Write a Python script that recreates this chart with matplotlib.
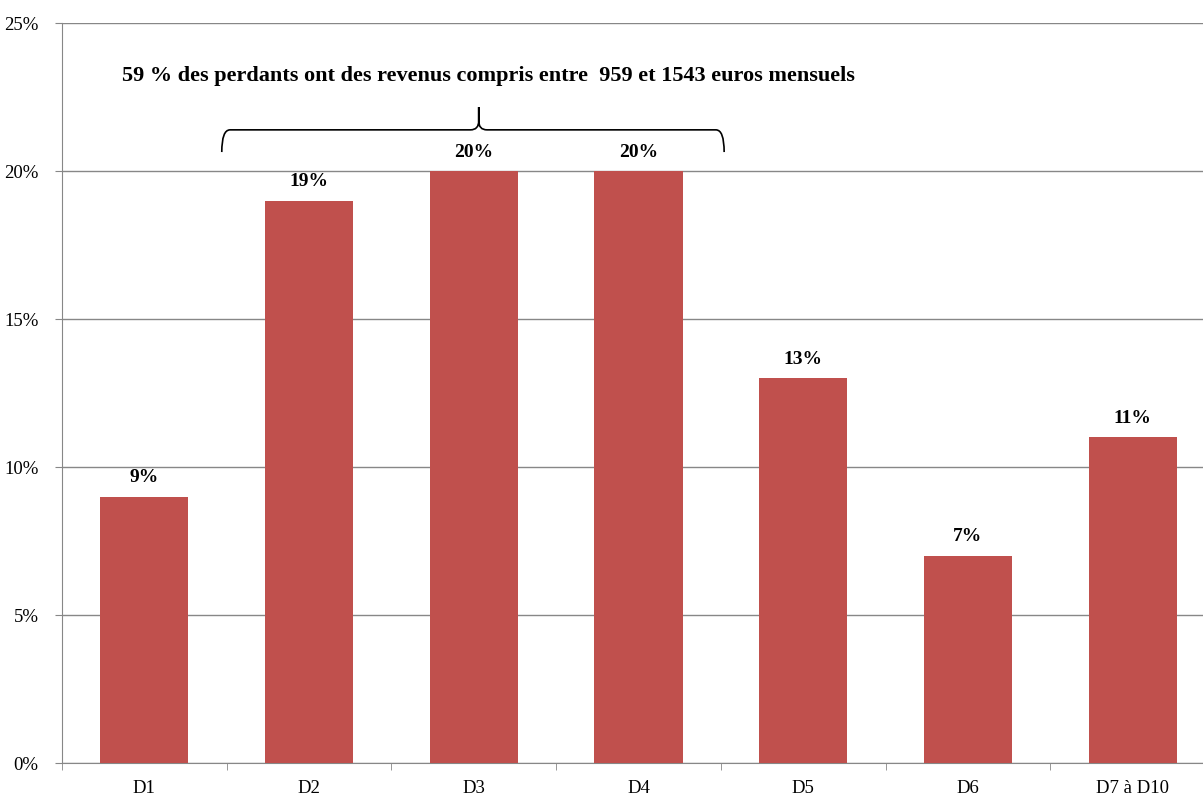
import numpy as np
import matplotlib.pyplot as plt
from matplotlib.path import Path
from matplotlib.patches import PathPatch

categories = ['D1', 'D2', 'D3', 'D4', 'D5', 'D6', 'D7 à D10']
values = [9, 19, 20, 20, 13, 7, 11]
yticks = [0, 5, 10, 15, 20, 25]
note = '59 % des perdants ont des revenus compris entre  959 et 1543 euros mensuels'

plt.rcParams['font.family'] = ['Liberation Serif', 'DejaVu Serif']

fig = plt.figure(figsize=(12.03, 7.95), dpi=100)
ax = fig.add_axes([62 / 1203, 32 / 795, 1153 / 1203, 740 / 795])

x = np.arange(len(categories))
ax.bar(x, values, width=0.535, color='#C0504D', zorder=3)
for xi, v in zip(x, values):
    ax.text(xi, v + 0.35, '%d%%' % v, ha='center', va='bottom',
            fontsize=14, fontweight='bold', zorder=4)

ax.set_xlim(-0.5, len(categories) - 0.5)
ax.set_ylim(0, 25)
ax.set_yticks(yticks)
ax.set_yticklabels(['%d%%' % t for t in yticks], fontsize=13.5)
ax.set_xticks(x)
ax.set_xticklabels(categories, fontsize=13.5)
ax.set_xticks(np.arange(len(categories) + 1) - 0.5, minor=True)
ax.tick_params(axis='x', which='major', length=0, pad=12)
ax.tick_params(axis='x', which='minor', length=5, color='#878787')
ax.tick_params(axis='y', length=5, color='#878787', pad=12)
ax.yaxis.grid(True, color='#878787', linewidth=1, zorder=0)

for s in ['top', 'right']:
    ax.spines[s].set_visible(False)
ax.spines['left'].set_color('#878787')
ax.spines['bottom'].set_color('#878787')

# accolade au-dessus de D2-D4
x0, x1, xc = 0.47, 3.52, 2.03
ye, yl, yt = 20.64, 21.39, 22.16
dx, dy = 0.05, 0.3
verts = [
    (x0, ye), (x0, yl), (x0 + dx, yl),
    (xc - dx, yl),
    (xc, yl), (xc, yl + dy),
    (xc, yt),
    (xc, yt), (xc, yl + dy),
    (xc, yl), (xc + dx, yl),
    (x1 - dx, yl),
    (x1, yl), (x1, ye),
]
codes = [Path.MOVETO, Path.CURVE3, Path.CURVE3,
         Path.LINETO,
         Path.CURVE3, Path.CURVE3,
         Path.LINETO,
         Path.MOVETO, Path.LINETO,
         Path.CURVE3, Path.CURVE3,
         Path.LINETO,
         Path.CURVE3, Path.CURVE3]
ax.add_patch(PathPatch(Path(verts, codes), facecolor='none',
                       edgecolor='black', linewidth=1.2, zorder=5))

ax.text(2.09, 23.21, note, ha='center', va='center', fontsize=16,
        fontweight='bold')

fig.savefig('out.png', dpi=100)
